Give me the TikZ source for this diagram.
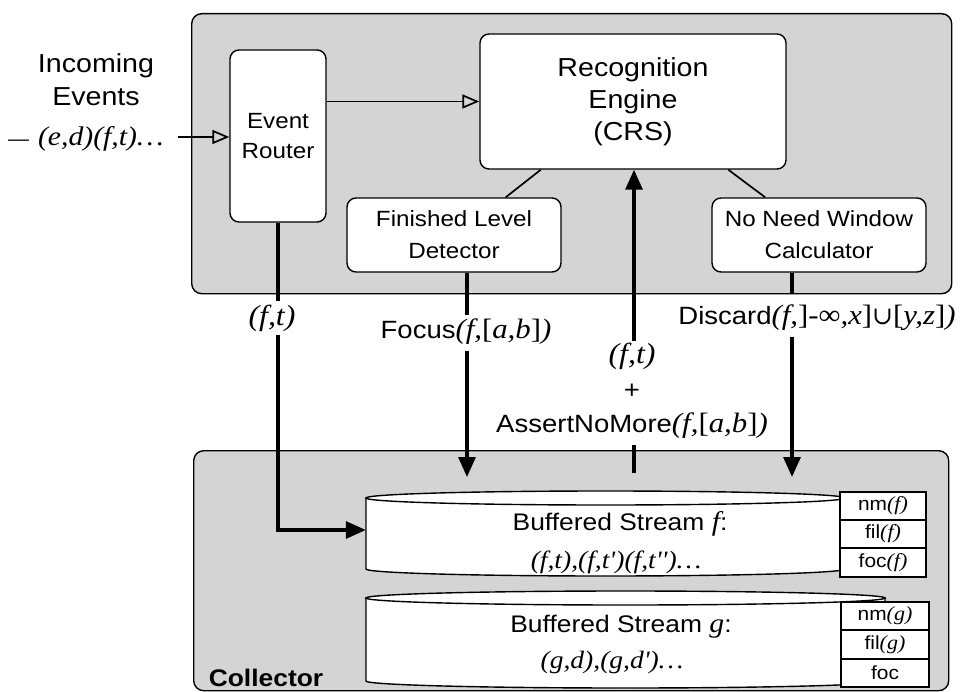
\documentclass[tikz,border=0pt]{standalone}
\usepackage{fontspec}
\setmainfont{Liberation Sans}[FakeStretch=1.1]
\newfontfamily\tms{Liberation Serif}[FakeStretch=1.1]
\newfontfamily\dvs{DejaVu Serif}
\usetikzlibrary{arrows.meta,calc}
\newcommand{\fsz}[1]{\fontsize{#1}{#1}\selectfont}
\newcommand{\mi}[2]{{\fsz{#1}\tms\itshape #2}}
\newcommand{\ob}{{\upshape[}}
\newcommand{\cb}{{\upshape]}}
\definecolor{panelgray}{RGB}{212,212,212}
\tikzset{
  box/.style={draw, line width=1.4pt, rounded corners=9pt, fill=white, align=center, inner sep=0pt},
  panel/.style={draw, line width=1.4pt, rounded corners=10pt, fill=panelgray, inner sep=0pt},
  thinarrow/.style={line width=1.7pt, -{Triangle[open, length=17pt, width=14pt]}},
  thinline/.style={line width=1.7pt},
  thickline/.style={line width=3.2pt},
  thickarrow/.style={line width=3.2pt, -{Triangle[length=20pt, width=17pt]}},
  lbl/.style={inner sep=0pt, align=center},
  cyl/.style={draw, line width=1.4pt, fill=white},
  tinybox/.style={draw, line width=1.4pt, fill=white, minimum width=86pt, minimum height=28pt, inner sep=0pt},
}
\begin{document}
\begin{tikzpicture}[x=1pt,y=-1pt]
\useasboundingbox (0,0) rectangle (965,692);

% panels
\node[panel, anchor=north west, minimum width=760pt, minimum height=280pt] (top) at (191,13) {};
\node[panel, anchor=north west, minimum width=755pt, minimum height=240pt] (coll) at (193,450) {};
\node[lbl, font=\bfseries\fsz{24}] (colllbl) at (266,678) {Collector};

% top boxes
\node[box, minimum width=96pt, minimum height=172pt, font=\fontsize{22}{30}\selectfont] (router) at (278,136) {Event\\Router};
\node[box, minimum width=306pt, minimum height=135pt, font=\fontsize{26}{32}\selectfont] (reco) at (633,101.5) {Recognition\\Engine\\(CRS)};
\node[box, minimum width=214pt, minimum height=74pt, font=\fontsize{22}{32}\selectfont] (fin) at (454,235) {Finished Level\\Detector};
\node[box, minimum width=214pt, minimum height=74pt, font=\fontsize{22}{32}\selectfont] (nn) at (819,235) {No Need Window\\Calculator};

% incoming
\node[lbl, font=\fontsize{26}{33}\selectfont] (incT) at (96,80) {Incoming\\Events};
\node[lbl, anchor=west] (inc) at (8,139) {{\fsz{19}—}\hspace{9pt}\mi{27}{(e,d)(f,t)…}};
\draw[thinarrow] (inc.east) ++(14,-2) coordinate (incS) -- (incS -| router.west);
\draw[thinarrow] (router.east |- reco.west) -- (reco.west);

% engine to sub boxes
\draw[thinline] ($(reco.south west)!0.2!(reco.south east)$) -- ($(fin.north west)!0.74!(fin.north east)$);
\draw[thinline] ($(reco.south west)!0.81!(reco.south east)$) -- ($(nn.north west)!0.25!(nn.north east)$);

% cylinders
\draw[cyl] (366,498) -- (366,569) arc[start angle=180, end angle=0, x radius=239.5, y radius=7] -- (845,498) -- cycle;
\draw[cyl] (605.5,498) ellipse [x radius=239.5, y radius=7];
\node[inner sep=0pt, minimum width=479pt, minimum height=64pt] (cylf) at (605.5,530) {};
\node[lbl, font=\fsz{24}] (cylfT) at (620,524) {Buffered Stream \mi{27}{f}:};
\node[lbl] (cylfS) at (616,562) {\mi{25}{(f,t),(f,t')(f,t'')…}};

\draw[cyl] (366,598) -- (366,681) arc[start angle=180, end angle=0, x radius=259.5, y radius=7] -- (885,598) -- cycle;
\draw[cyl] (625.5,598) ellipse [x radius=259.5, y radius=7];
\node[inner sep=0pt, minimum width=519pt, minimum height=80pt] (cylg) at (625.5,640) {};
\node[lbl, font=\fsz{24}] (cylgT) at (621,627) {Buffered Stream \mi{27}{g}:};
\node[lbl] (cylgS) at (612,662) {\mi{25}{(g,d),(g,d')…}};

% tiny boxes
\node[tinybox, minimum height=28pt] (nmf) at (883,506) {\fsz{19}nm\mi{20}{(f)}};
\node[tinybox, minimum height=28pt] (filf) at (883,534) {\fsz{19}fil\mi{20}{(f)}};
\node[tinybox, minimum height=29pt] (focf) at (883,562.5) {\fsz{19}foc\mi{20}{(f)}};
\node[tinybox, minimum width=88pt, minimum height=28pt] (nmg) at (885,616) {\fsz{19}nm\mi{20}{(g)}};
\node[tinybox, minimum width=88pt, minimum height=29pt] (filg) at (885,644.5) {\fsz{19}fil\mi{20}{(g)}};
\node[tinybox, minimum width=88pt, minimum height=28pt] (focg) at (885,673) {\fsz{19}foc};

% labels
\node[lbl] (lblR) at (272,318) {\mi{29}{(f,t)}};
\node[lbl, font=\fsz{25}] (lblF) at (466,332) {Focus\mi{28}{(f,\ob a,b\cb)}};
\node[lbl, font=\fsz{25}] (lblD) at (817,318) {Discard\mi{28}{(f,\cb{\upshape-∞},x\cb}{\dvs\fsz{25}∪}\mi{28}{\ob y,z\cb)}};
\node[lbl] (lblU) at (632,356) {\mi{29}{(f,t)}};
\node[lbl, font=\fsz{25}] (plus) at (632,391) {+};
\node[lbl, font=\fsz{25}] (lblA) at (632,426) {AssertNoMore\mi{28}{(f,\ob a,b\cb)}};

\coordinate (xfoc) at (467,0);
\coordinate (xdis) at (792,0);
\coordinate (xup) at (634,0);
\coordinate (tipy) at (0,477);
\coordinate (ticky) at (0,473);

% router -> collector
\draw[thickline] (router.south) -- ($(lblR.north)+(6,-4)$ -| router.south);
\draw[thickarrow] ($(lblR.south)+(6,4)$ -| router.south) |- (cylf.west);

% focus
\draw[thickline] (xfoc |- fin.south) -- ($(xfoc |- lblF.north)+(0,-4)$);
\draw[thickarrow] ($(xfoc |- lblF.south)+(0,6)$) -- (xfoc |- tipy);

% discard
\draw[thickline] (xdis |- nn.south) -- (xdis |- top.south);
\draw[thickarrow] ($(xdis |- lblD.south)+(0,6)$) -- (xdis |- tipy);

% up arrow
\draw[thickarrow] ($(xup |- lblU.north)+(0,-2)$) -- (xup |- reco.south);
\draw[thickline] ($(xup |- lblA.south)+(0,6)$) -- (xup |- ticky);
\end{tikzpicture}
\end{document}
